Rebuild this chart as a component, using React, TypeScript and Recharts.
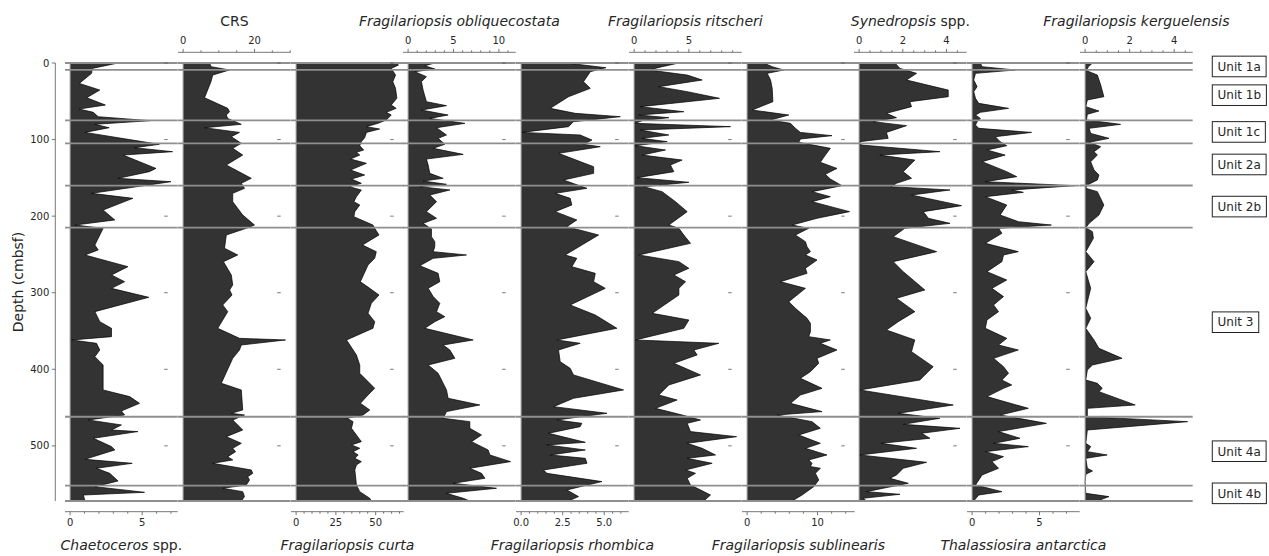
import React from 'react';
import { AreaChart, Area, XAxis, YAxis, ReferenceLine, ReferenceArea, LineChart, Line } from 'recharts';

// ---------------- data ----------------
const DEPTH_MAX = 572;
const depthTicks = [0, 100, 200, 300, 400, 500];
const unitBounds = [0, 9, 75, 105, 160, 215, 462, 552, 572];
const unitNames = ['Unit 1a', 'Unit 1b', 'Unit 1c', 'Unit 2a', 'Unit 2b', 'Unit 3', 'Unit 4a', 'Unit 4b'];

// [depth (cmbsf), value]
const chaetoceros = [[0,3.33],[7,1.54],[13.5,1.49],[26.6,0.64],[35.3,2.06],[45.3,1.15],[54.9,2.45],[60.1,0.62],[64.4,1.61],[70.1,1.95],[75.3,5.55],[80.1,1.72],[84.5,2.71],[90.6,1.03],[106.2,6.19],[110.6,4.47],[115.8,7.11],[120.2,3.67],[137.6,5.96],[141.9,5.5],[150.6,3.33],[155,7.0],[170.2,1.49],[176.7,4.36],[192,2.29],[205,3.1],[211.6,0.34],[215.9,2.29],[237.7,1.72],[244.2,1.95],[250.7,1.03],[266,4.01],[276.8,2.87],[285.6,3.78],[294.3,2.87],[306,5.46],[324.7,1.72],[337.8,2.06],[346.5,2.87],[357.4,2.87],[361.7,0.11],[366.1,1.83],[374.8,2.06],[383.5,1.72],[394.4,2.29],[427,2.29],[435.7,4.13],[444.5,4.82],[454.4,3.56],[459.7,3.78],[466.2,1.26],[472.7,3.56],[479.3,2.87],[481.4,4.7],[490.1,1.61],[501,2.87],[505.4,3.1],[517.6,1.03],[522.8,4.31],[529.3,1.83],[535.9,2.75],[545.9,3.33],[553.3,1.72],[560.7,5.16],[564.2,0.92],[572,1.03]];

const crs = [[0,7.4],[4.8,7.85],[9.1,13],[15.7,8.3],[24.4,7.8],[45.3,6.0],[59.2,12.5],[63.6,13],[67.9,12.1],[72.3,12.5],[80.1,16.3],[84.5,6],[90.6,15.8],[96.2,13.5],[104.9,16.3],[111.4,13.9],[120.2,16.7],[133.2,12.1],[150.6,19.1],[157.1,16.3],[163.7,17.2],[170.2,13.9],[181.1,13.9],[198.5,16.7],[211.6,20],[215.9,17.7],[224.6,12.1],[242,11.6],[250.7,15.3],[259.4,11.3],[276.8,13.5],[289.9,13.9],[296.4,13],[303,13.7],[316,11.1],[324.7,12.5],[346.5,9.7],[359.6,15.8],[361.7,28.7],[368.3,16.3],[374.8,15.8],[385.7,13.9],[418.3,10.7],[427,16.3],[453.1,16.7],[457.5,13.5],[459.7,17.2],[466.2,13.9],[479.3,16.7],[488,12.1],[496.7,16.3],[503.2,13.9],[507.6,14.7],[514.1,12.5],[518.4,13.9],[522.8,8.3],[531.5,19.1],[535.9,19.5],[540.2,18.1],[544.6,18.6],[551.1,17.7],[555.4,11.1],[559.8,16.7],[566.3,17.2],[572,16.3]];

const curta = [[0,62.5],[2.6,64.4],[7,59.8],[15.7,62.5],[24.4,60.8],[33.1,62.5],[46.1,63.3],[54.9,59.8],[59.2,62.9],[64.4,56.7],[67.9,59.8],[74.4,56.7],[78.8,51.5],[83.1,44.2],[86.2,52.5],[90.6,44.2],[97.5,43.1],[102.7,41],[108,40],[113.6,42.5],[116.7,37.9],[120.2,40],[125.4,34.2],[131,44.2],[139.7,34.2],[146.3,43.1],[151.5,34.8],[157.1,41],[161.5,33.3],[165.8,41],[174.6,37.9],[181.1,36.3],[185.4,40],[194.1,36.9],[200.7,36.3],[211.6,48.3],[215.9,49.4],[224.6,52.1],[237.7,41.7],[246.4,50.4],[255.1,49.4],[263.8,45.2],[285.6,40.4],[294.3,46.3],[303,52.1],[313.8,47.3],[326.9,45.2],[337.8,49.4],[346.5,48.3],[361.7,31.7],[368.3,33.8],[381.3,37.9],[394.4,40],[405.3,40],[416.1,45.2],[424.9,49.4],[433.6,45.2],[444.5,40.4],[453.1,46.3],[459.7,42.1],[464,32.1],[468.4,35.8],[477.1,34.8],[485.8,37.9],[494.5,41],[498.8,34.8],[503.2,40],[507.6,35.8],[511.9,39],[516.3,36.9],[520.6,41],[525,37.9],[531.5,36.9],[542.4,37.5],[551.1,37.9],[559.8,40],[568.5,46.3],[572,47.3]];

const obliquecostata = [[0,2.94],[3.5,1.84],[7.8,2.94],[11.3,0.74],[17.8,2.02],[24.4,1.47],[35.3,1.65],[50.5,2.02],[55.7,4.23],[61.4,1.47],[67.9,4.41],[72.3,2.39],[78.8,6.25],[84.5,3.13],[94,4.23],[98.4,3.31],[106.2,4.04],[111.4,2.76],[119.3,6.07],[125.4,2.02],[133.2,2.21],[144.1,2.39],[150.6,3.86],[154.1,1.65],[158.4,4.23],[161.5,1.29],[165.8,4.6],[172.4,2.39],[181.1,3.13],[194.1,2.02],[202.8,3.13],[209.4,1.65],[216.8,2.57],[226.8,2.57],[233.3,2.94],[239.8,2.94],[246.4,2.76],[250.7,6.43],[255.1,2.76],[264.7,1.29],[274.7,3.31],[285.6,3.49],[294.3,2.21],[305.1,2.76],[313.8,3.49],[324.7,3.13],[331.3,4.04],[337.8,2.94],[346.5,1.84],[361.7,7.17],[368.3,3.86],[374.8,4.6],[385.7,5.15],[394.4,2.21],[405.3,3.31],[418.3,3.86],[427,4.23],[437.9,4.41],[446.6,7.9],[455.3,4.23],[464,3.86],[468.4,6.8],[477.1,6.8],[485.8,8.09],[494.5,6.99],[505.4,8.82],[511.9,9.01],[520.6,11.29],[529.3,6.8],[535.9,8.09],[542.4,8.46],[548.9,4.96],[555.4,9.74],[562,4.23],[568.5,6.07],[572,6.8]];

const rhombica = [[0,2.75],[6.1,5.1],[11.3,4.16],[24.4,3.75],[33.1,4.16],[44,2.85],[59.2,1.75],[65.7,3.25],[70.1,5.96],[76.6,3.15],[83.1,2.85],[90.6,0.04],[94,3.55],[100.6,4.26],[106.2,3.75],[109.3,4.76],[118,2.25],[135.4,4.36],[144.1,4.36],[152.8,2.55],[163.7,3.96],[170.2,2.05],[176.7,2.95],[185.4,3.05],[194.1,2.05],[205,3.35],[213.7,2.75],[224.6,4.66],[250.7,2.65],[255.1,3.35],[266,3.05],[274.7,4.46],[285.6,4.36],[294.3,5.06],[316,2.95],[329.1,4.46],[346.5,5.76],[361.7,2.15],[366.1,3.55],[374.8,2.25],[390,2.35],[398.8,2.95],[407.4,3.15],[427,6.16],[437.9,3.15],[448.8,1.95],[457.5,5.16],[466.2,2.15],[470.6,3.65],[474.9,3.55],[483.6,1.65],[495.4,3.86],[498.8,1.55],[505.4,3.86],[511.9,1.75],[516.3,3.86],[522.8,3.96],[531.5,1.35],[535.9,1.55],[546.7,4.86],[557.6,2.75],[566.3,3.45],[572,2.85]];

const ritscheri = [[0,4.09],[4.8,2.56],[9.1,1.34],[15.7,4.85],[22.2,6.22],[30.9,2.26],[37.4,4.85],[46.1,7.8],[57,0.58],[63.6,4.54],[67.9,0.43],[71.4,3.17],[75.3,0.73],[78.8,0.12],[83.1,8.81],[87.5,0.58],[94,3.17],[98.4,0.73],[102.7,3.02],[108,0.12],[113.6,2.87],[120.2,0.73],[126.7,4.39],[133.2,3.32],[141.9,3.63],[149.7,0.27],[155.8,5.0],[161.5,0.88],[168,2.56],[181.1,3.78],[194.1,4.85],[211.6,3.17],[215.9,4.09],[224.6,4.54],[235.5,5.15],[250.7,0.43],[259.4,4.09],[268.1,5.0],[276.8,3.63],[285.6,4.7],[294.3,4.09],[303,4.09],[326.9,1.65],[335.6,5.0],[346.5,4.54],[361.7,0.12],[366.1,7.74],[374.8,5.46],[381.3,5.76],[392.2,3.63],[407.4,6.07],[420.5,3.17],[433.6,2.26],[440.1,3.93],[451,1.95],[459.7,4.39],[466.2,6.07],[470.6,4.85],[481.4,5.15],[488,9.36],[496.7,4.85],[503.2,6.22],[511.9,7.44],[516.3,4.85],[522.8,7.13],[531.5,4.7],[535.9,5.61],[542.4,4.85],[551.1,5.15],[555.4,5.76],[564.2,6.98],[572,6.37]];

const sublinearis = [[0,2.38],[4.8,3.56],[9.1,5.21],[13.5,2.85],[22.2,3.33],[33.1,3.56],[50.5,3.66],[61.4,0.73],[67.9,5.92],[74.4,3.33],[78.8,6.16],[85.3,6.86],[90.6,7.57],[94.9,12.05],[99.2,7.57],[103.6,7.33],[111.4,11.82],[120.2,11.11],[129.7,10.4],[137.6,12.76],[145.4,11.11],[151.5,11.82],[160.2,13.47],[168,9.22],[174.6,11.82],[181.1,9.22],[194.1,14.55],[202.8,9.93],[211.6,6.39],[215.9,8.75],[224.6,6.86],[233.3,8.28],[239.8,8.51],[246.4,8.99],[250.7,8.28],[257.3,9.93],[268.1,8.28],[274.7,8.51],[285.6,4.74],[294.3,8.28],[311.7,5.92],[320.4,6.86],[333.4,8.51],[340,8.99],[350.9,8.99],[357.4,8.75],[361.7,11.82],[366.1,10.4],[374.8,12.76],[385.7,9.93],[392.2,10.17],[403.1,8.99],[411.8,7.57],[424.9,10.64],[433.6,7.57],[444.5,6.16],[455.3,10.64],[459.7,4.27],[468.4,9.22],[477.1,10.4],[485.8,7.33],[496.7,10.4],[503.2,8.28],[511.9,11.34],[518.4,8.75],[522.8,9.22],[527.1,8.99],[529.3,10.4],[535.9,9.7],[544.6,10.17],[553.3,9.46],[564.2,7.81],[572,6.39]];

const synedropsis = [[0,1.64],[7,1.87],[13.5,2.63],[22.2,2.17],[35.3,4.08],[44,4.08],[50.5,2.32],[57,2.4],[65.7,1.25],[71.4,1.71],[76.6,0.64],[81.8,2.17],[90.6,1.25],[98.4,1.33],[102.7,0.03],[107.1,0.11],[115.8,3.7],[120.2,0.95],[126.7,2.55],[141.9,2.02],[150.6,2.4],[157.1,1.71],[161.5,1.48],[165.8,4.16],[172.4,2.4],[186.3,4.69],[194.1,2.94],[202.8,3.17],[209.4,4.16],[215.9,2.09],[226.8,1.56],[246.4,3.55],[259.4,1.56],[272.5,2.02],[296.4,3.01],[307.3,1.71],[324.7,2.55],[337.8,1.79],[348.7,1.25],[361.7,2.55],[368.3,2.48],[377,2.4],[396.6,3.39],[414,2.78],[427,0.03],[446.6,4.31],[457.5,1.79],[464,3.7],[471.9,2.02],[477.1,4.62],[483.6,2.86],[490.1,3.24],[496.7,1.02],[503.2,2.63],[511.9,0.03],[521.5,3.09],[529.3,2.02],[538,1.71],[542.4,1.41],[548.9,2.25],[555.4,1.1],[559.8,0.34],[563.3,1.87],[568.5,0.18],[572,0.34]];

const thalassiosira = [[0,0.61],[4.8,0.74],[9.1,3.19],[13.5,0.25],[22.2,0.12],[30.9,0.37],[37.4,0.12],[46.1,0.25],[52.7,0.49],[59.2,2.7],[64.4,0.61],[67.9,0.25],[72.3,0.61],[76.6,0.37],[81,0.25],[85.3,0.49],[90.6,4.41],[96.2,1.72],[102.7,2.08],[108,2.57],[113.6,1.1],[120.2,2.45],[128.8,0.74],[141.9,2.57],[148.4,3.31],[155,0.98],[160.2,7.6],[165.8,2.94],[168.9,3.8],[174.6,0.98],[185.4,2.57],[198.5,2.08],[207.2,3.43],[211.6,5.88],[215.9,1.96],[222.4,2.21],[235.5,0.98],[246.4,3.43],[250.7,2.33],[259.4,2.21],[272.5,1.1],[283.4,2.57],[294.3,1.47],[305.1,2.33],[316,1.59],[324.7,1.96],[335.6,1.1],[346.5,0.98],[359.6,2.57],[368.3,1.96],[374.8,3.43],[385.7,1.59],[396.6,2.33],[405.3,2.7],[414,2.21],[420.5,2.94],[424.9,2.33],[435.7,1.1],[451,4.17],[459.7,2.08],[470.6,5.51],[481.4,1.96],[490.1,3.55],[496.7,1.59],[501,4.17],[507.6,0.98],[514.1,2.33],[520.6,1.47],[529.3,1.96],[538,0.74],[551.1,0.25],[559.8,2.21],[564.2,0.49],[572,0.12]];

const kerguelensis = [[0,0.33],[4.8,0.15],[9.1,0.06],[11.3,0.18],[15.7,0.55],[28.7,0.7],[44,0.84],[48.3,0.1],[57,0.03],[62.7,0.62],[67,0.1],[74.4,0.06],[80.1,1.59],[85.3,0.18],[91.9,0.25],[98.4,1.07],[103.6,0.18],[109.3,0.7],[115.8,0.4],[120.2,0.55],[128.8,0.25],[139.7,0.4],[146.3,0.62],[152.8,0.55],[159.3,0.1],[163.7,0.03],[168,0.55],[185.4,0.84],[198.5,0.62],[209.4,0.18],[215,0.03],[220.3,0.33],[229,0.37],[246.4,0.03],[259.4,0.4],[272.5,0.03],[294.3,0.25],[311.7,0.1],[320.4,0.03],[333.4,0.25],[346.5,0.03],[361.7,0.4],[372.6,0.62],[385.7,1.66],[394.4,0.33],[400.9,0.1],[414,0.03],[418.3,0.55],[424.9,0.77],[429.2,0.62],[446.6,2.25],[451,0.1],[461.9,0.1],[468.4,4.6],[479.3,0.1],[496.7,0.03],[501,0.25],[507.6,0.1],[511.9,0.99],[516.3,0.03],[529.3,0.1],[532.8,0.33],[537.2,0.03],[546.7,0],[562,0.03],[566.3,1.07],[572,0.55]];

// ---------------- panel configuration ----------------
const panels = [
  { data: chaetoceros, title: [['Chaetoceros', true], [' spp.', false]], pos: 'bottom', majors: [0, 5], minor: 1, dec: 0 },
  { data: crs, title: [['CRS', false]], pos: 'top', majors: [0, 20], minor: 5, dec: 0 },
  { data: curta, title: [['Fragilariopsis curta', true]], pos: 'bottom', majors: [0, 25, 50], minor: 5, dec: 0 },
  { data: obliquecostata, title: [['Fragilariopsis obliquecostata', true]], pos: 'top', majors: [0, 5, 10], minor: 1, dec: 0 },
  { data: rhombica, title: [['Fragilariopsis rhombica', true]], pos: 'bottom', majors: [0, 2.5, 5], minor: 0.5, dec: 1 },
  { data: ritscheri, title: [['Fragilariopsis ritscheri', true]], pos: 'top', majors: [0, 5], minor: 1, dec: 0 },
  { data: sublinearis, title: [['Fragilariopsis sublinearis', true]], pos: 'bottom', majors: [0, 10], minor: 2, dec: 0 },
  { data: synedropsis, title: [['Synedropsis', true], [' spp.', false]], pos: 'top', majors: [0, 2, 4], minor: 0.5, dec: 0 },
  { data: thalassiosira, title: [['Thalassiosira antarctica', true]], pos: 'bottom', majors: [0, 5], minor: 1, dec: 0 },
  { data: kerguelensis, title: [['Fragilariopsis kerguelensis', true]], pos: 'top', majors: [0, 2, 4], minor: 0.5, dec: 0 },
];

// ---------------- geometry / style ----------------
const W = 1269;
const H = 556;
const FIRST_LEFT = 65.3;
const PANEL_W = 112.7;
const TOP_AXIS_Y = 52.3;
const BOTTOM_AXIS_Y = 511.7;
const PAD = 10.7;
const RIGHT_EXTRA = 77;
const FONT = 'DejaVu Sans, Verdana, sans-serif';
const TEXT = '#262626';
const AXIS = '#555555';
const UNIT = '#8f8f8f';
const FILL = '#333333';

const CHAR_W = { U: 8.79, n: 7.6, i: 3.33, t: 4.7, ' ': 3.81, '1': 7.63, '2': 7.63, '3': 7.63, '4': 7.63, a: 7.35, b: 7.62, c: 6.6 };
const textWidth = (s) => s.split('').reduce((acc, ch) => acc + (CHAR_W[ch] || 7), 0);

function UnitBox({ viewBox, text }) {
  if (!viewBox) return null;
  const cy = viewBox.y + viewBox.height / 2;
  const x0 = viewBox.x + viewBox.width + 19.6;
  const w = textWidth(text) + 10.6;
  return (
    <g>
      <rect x={x0} y={cy - 10.3} width={w} height={20.6} fill="#ffffff" stroke="#222" strokeWidth={1} />
      <text x={x0 + 5.3} y={cy + 4.3} fontSize={12} fontFamily={FONT} fill={TEXT}>{text}</text>
    </g>
  );
}

function Panel({ cfg, index }) {
  const data = cfg.data.map(([d, v]) => ({ d, v }));
  const M = Math.max(...cfg.data.map((p) => p[1]));
  const lo = -0.05 * M;
  const hi = 1.05 * M;
  const ticks = [];
  for (let i = 0; i * cfg.minor <= hi + 1e-9; i++) ticks.push(+(i * cfg.minor).toFixed(4));
  const isTop = cfg.pos === 'top';
  const isLast = index === panels.length - 1;
  const width = PANEL_W + (isLast ? RIGHT_EXTRA : 0);
  const margin = isTop
    ? { top: 0, bottom: H - BOTTOM_AXIS_Y, left: 0, right: isLast ? RIGHT_EXTRA : 0 }
    : { top: TOP_AXIS_Y, bottom: 0, left: 0, right: isLast ? RIGHT_EXTRA : 0 };
  const renderTick = (p) => {
    const { x, y, payload } = p;
    const v = payload.value;
    const major = cfg.majors.some((m) => Math.abs(m - v) < 1e-6);
    const len = major ? 3.5 : 2;
    const dir = isTop ? -1 : 1;
    return (
      <g>
        <line x1={x} x2={x} y1={y} y2={y + dir * len} stroke={AXIS} strokeWidth={0.8} />
        {major && (
          <text x={x} y={isTop ? y - 8.7 : y + 14.6} textAnchor="middle" fontSize={10} fontFamily={FONT} fill={TEXT}>
            {v.toFixed(cfg.dec)}
          </text>
        )}
      </g>
    );
  };
  const renderTitle = () => (
    <text x={PANEL_W / 2} y={isTop ? 26 : 550} textAnchor="middle" fontSize={14} fontFamily={FONT} fill={TEXT}>
      {cfg.title.map(([s, it], k) => (
        <tspan key={k} fontStyle={it ? 'italic' : 'normal'}>{s}</tspan>
      ))}
    </text>
  );
  const dashX1 = hi - ((hi - lo) * 13.5) / PANEL_W;
  const dashX2 = hi - ((hi - lo) * 10) / PANEL_W;
  return (
    <div style={{ position: 'absolute', left: FIRST_LEFT + PANEL_W * index, top: 0, width, height: H }}>
      <AreaChart width={width} height={H} data={data} layout="vertical" margin={margin}>
        <XAxis
          type="number"
          domain={[lo, hi]}
          allowDataOverflow
          ticks={ticks}
          interval={0}
          orientation={cfg.pos}
          height={isTop ? TOP_AXIS_Y : H - BOTTOM_AXIS_Y}
          tickSize={0}
          tickMargin={0}
          tickLine={false}
          tick={renderTick}
          axisLine={{ stroke: AXIS, strokeWidth: 0.8 }}
          label={{ content: renderTitle }}
        />
        <YAxis type="number" dataKey="d" domain={[0, DEPTH_MAX]} hide allowDataOverflow padding={{ top: PAD, bottom: PAD }} />
        <Area
          type="linear"
          dataKey="v"
          baseValue={0}
          fill={FILL}
          fillOpacity={1}
          stroke="#000"
          strokeWidth={0.7}
          dot={false}
          activeDot={false}
          isAnimationActive={false}
        />
        <ReferenceLine segment={[{ x: 0, y: 0 }, { x: 0, y: DEPTH_MAX }]} stroke="#9a9a9a" strokeWidth={1} />
        {unitBounds.map((b) => (
          <ReferenceLine key={'u' + b} y={b} stroke={UNIT} strokeWidth={1.8} />
        ))}
        {!isLast &&
          depthTicks.map((d) => (
            <ReferenceLine key={'t' + d} segment={[{ x: dashX1, y: d }, { x: dashX2, y: d }]} stroke={AXIS} strokeWidth={0.8} />
          ))}
        {isLast &&
          unitNames.map((n, i) => (
            <ReferenceArea
              key={n}
              y1={unitBounds[i]}
              y2={unitBounds[i + 1]}
              fill="none"
              fillOpacity={0}
              stroke="none"
              label={{ content: (lp) => <UnitBox viewBox={lp.viewBox} text={n} /> }}
            />
          ))}
      </AreaChart>
    </div>
  );
}

function DepthAxis() {
  const data = chaetoceros.map(([d, v]) => ({ d, v }));
  const renderLabel = () => (
    <text x={18} y={282} transform="rotate(-90 18 282)" textAnchor="middle" dominantBaseline="central" fontSize={14} fontFamily={FONT} fill={TEXT}>
      Depth (cmbsf)
    </text>
  );
  return (
    <div style={{ position: 'absolute', left: 0, top: 0, width: 60, height: H }}>
      <LineChart width={60} height={H} data={data} layout="vertical" margin={{ top: 63, bottom: H - 501, left: 0, right: 0 }}>
        <XAxis type="number" hide domain={[0, 8]} />
        <YAxis
          type="number"
          dataKey="d"
          domain={[0, DEPTH_MAX]}
          allowDataOverflow
          ticks={depthTicks}
          interval={0}
          width={55.3}
          tickSize={3.5}
          tickMargin={2.5}
          tickLine={{ stroke: AXIS, strokeWidth: 0.8 }}
          axisLine={{ stroke: AXIS, strokeWidth: 0.8 }}
          tick={{ fontSize: 10, fontFamily: FONT, fill: TEXT }}
          label={{ content: renderLabel }}
        />
        <Line dataKey="v" stroke="none" dot={false} activeDot={false} isAnimationActive={false} />
      </LineChart>
    </div>
  );
}

export default function App() {
  return (
    <div style={{ position: 'absolute', left: 0, top: 0, width: W, height: H, background: '#ffffff', overflow: 'hidden' }}>
      <style>{'.recharts-surface{overflow:visible}.recharts-wrapper{overflow:visible}'}</style>
      <DepthAxis />
      {panels.map((cfg, i) => (
        <Panel key={i} cfg={cfg} index={i} />
      ))}
    </div>
  );
}
